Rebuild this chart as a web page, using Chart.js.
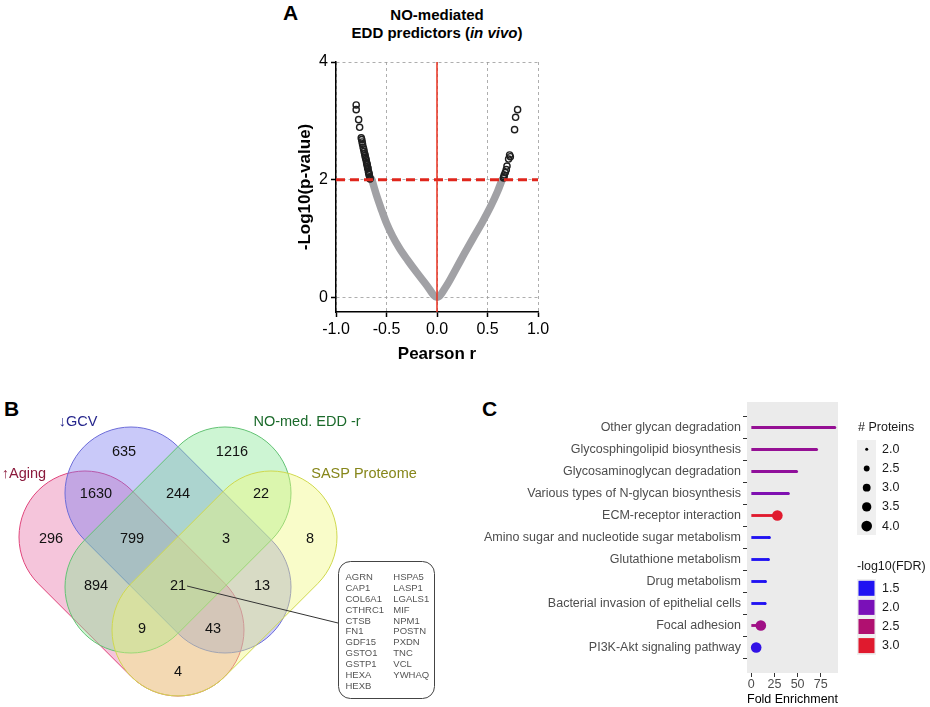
<!DOCTYPE html>
<html>
<head>
<meta charset="utf-8">
<script src="https://cdn.jsdelivr.net/npm/chart.js@4.4.1/dist/chart.umd.min.js"></script>
<style>
  html, body { margin: 0; padding: 0; background: #fff; }
  body { width: 930px; height: 707px; position: relative; overflow: hidden; font-family: "Liberation Sans", Arial, sans-serif; }
  canvas { position: absolute; }
  .panel { position: absolute; font-weight: bold; font-size: 21px; line-height: 24px; }
  #titleA { position: absolute; left: 317px; width: 240px; top: 6px; text-align: center; font-weight: bold; font-size: 15px; line-height: 18px; }
</style>
</head>
<body>
<div class="panel" style="left:283px;top:1px">A</div>
<div id="titleA">NO-mediated<br>EDD predictors (<i>in vivo</i>)</div>
<div class="panel" style="left:4px;top:397px">B</div>
<div class="panel" style="left:482px;top:397px">C</div>
<canvas id="chartA" width="265" height="330" style="left:285px;top:40px"></canvas>
<canvas id="chartB" width="470" height="327" style="left:0px;top:380px"></canvas>
<canvas id="chartC" width="460" height="327" style="left:470px;top:380px"></canvas>
<script>
// ---- panel A: volcano (Pearson r vs -log10 p) ----
const xTicksA = [-1, -0.5, 0, 0.5, 1];
const yTicksA = [0, 2, 4];
const yRangeA = [-0.25, 4];
const pCutoff = 2; // -log10(0.01)
// non-significant proteins (grey band)
const bandR    = [-0.645, -0.6, -0.55, -0.5, -0.44, -0.37, -0.29, -0.2, -0.1, 0, 0.092, 0.181, 0.27, 0.362, 0.45, 0.53, 0.6, 0.645];
const bandLogP = [2.0, 1.74, 1.49, 1.26, 1.04, 0.83, 0.63, 0.42, 0.2, 0, 0.19, 0.46, 0.74, 1.02, 1.28, 1.54, 1.8, 2.0];
// significant proteins (open circles)
const sigR    = [-0.663, -0.665, -0.667, -0.671, -0.673, -0.676, -0.679, -0.684, -0.686, -0.688, -0.691, -0.694, -0.697, -0.701, -0.705, -0.709, -0.712, -0.716, -0.722, -0.726, -0.731, -0.737, -0.741, -0.745, -0.75, -0.766, -0.776, -0.80, -0.80,
                 0.659, 0.663, 0.666, 0.676, 0.686, 0.693, 0.709, 0.719, 0.726, 0.768, 0.778, 0.798];
const sigLogP = [2.01, 2.03, 2.05, 2.08, 2.1, 2.12, 2.14, 2.19, 2.2, 2.22, 2.25, 2.27, 2.29, 2.33, 2.36, 2.38, 2.41, 2.44, 2.48, 2.52, 2.55, 2.6, 2.64, 2.68, 2.71, 2.89, 3.02, 3.19, 3.27,
                 2.03, 2.05, 2.08, 2.12, 2.17, 2.23, 2.35, 2.42, 2.39, 2.85, 3.06, 3.19];

// ---- panel B: 4-set Venn ----
const vennSets = ['\u2191Aging', '\u2193GCV', 'NO-med. EDD -r', 'SASP Proteome'];
const vennCounts = [635, 1216, 1630, 244, 22, 296, 799, 3, 8, 894, 21, 13, 9, 43, 4];
const sharedGenesA = ['AGRN', 'CAP1', 'COL6A1', 'CTHRC1', 'CTSB', 'FN1', 'GDF15', 'GSTO1', 'GSTP1', 'HEXA', 'HEXB'];
const sharedGenesB = ['HSPA5', 'LASP1', 'LGALS1', 'MIF', 'NPM1', 'POSTN', 'PXDN', 'TNC', 'VCL', 'YWHAQ'];

// ---- panel C: KEGG lollipop ----
const pathways = ['Other glycan degradation', 'Glycosphingolipid biosynthesis', 'Glycosaminoglycan degradation',
  'Various types of N-glycan biosynthesis', 'ECM-receptor interaction', 'Amino sugar and nucleotide sugar metabolism',
  'Glutathione metabolism', 'Drug metabolism', 'Bacterial invasion of epithelial cells', 'Focal adhesion', 'PI3K-Akt signaling pathway'];
const foldEnrichment = [90, 70.4, 48.9, 40, 28.2, 19.6, 18.6, 15.4, 15, 10.4, 5.4];
const proteinCount = [2, 2, 2, 2, 4, 2, 2, 2, 2, 4, 4];
const log10FDR = [2.25, 2.25, 2.2, 2.05, 3.0, 1.5, 1.5, 1.5, 1.5, 2.35, 1.6];
const foldTicks = [0, 25, 50, 75];
const sizeLegend = [2.0, 2.5, 3.0, 3.5, 4.0];
const fdrLegend = [1.5, 2.0, 2.5, 3.0];

const FONT = '"Liberation Sans", Arial, Helvetica, sans-serif';
Chart.defaults.font.family = FONT;
Chart.defaults.animation = false;

const noPad = s => { s.paddingLeft = 0; s.paddingRight = 0; s.paddingTop = 0; s.paddingBottom = 0; };

// ===== A =====
new Chart(document.getElementById('chartA'), {
  type: 'scatter',
  data: {
    datasets: [
      { type: 'line', data: [{x: 0, y: yRangeA[0]}, {x: 0, y: yRangeA[1]}], borderColor: '#e8311f', borderWidth: 1.5, pointRadius: 0, order: 0 },
      { type: 'line', data: [{x: xTicksA[0], y: pCutoff}, {x: xTicksA[4], y: pCutoff}], borderColor: '#e0261c', borderWidth: 3, borderDash: [9, 5], pointRadius: 0, order: 0 },
      { data: sigR.map((r, i) => ({x: r, y: sigLogP[i]})), pointRadius: 3.1, pointBorderWidth: 1.4, pointBorderColor: '#1e1e1e', pointBackgroundColor: 'rgba(255,255,255,0)', order: 1 },
      { type: 'line', data: bandR.map((r, i) => ({x: r, y: bandLogP[i]})), borderColor: '#a1a1a5', borderWidth: 7.5, borderCapStyle: 'round', borderJoinStyle: 'round', cubicInterpolationMode: 'monotone', pointRadius: 0, order: 2 }
    ]
  },
  options: {
    responsive: false,
    layout: { padding: { top: 22, right: 12, left: 0, bottom: 0 } },
    plugins: { legend: { display: false }, tooltip: { enabled: false } },
    scales: {
      x: {
        type: 'linear', min: -1, max: 1,
        afterBuildTicks: s => { s.ticks = xTicksA.map(v => ({value: v})); },
        afterFit: s => { s.height = 58; noPad(s); },
        ticks: { font: { size: 16 }, color: '#000', padding: 3, maxRotation: 0, autoSkip: false, callback: v => v.toFixed(1) },
        grid: { color: '#9a9a9a', lineWidth: 0.8, tickColor: '#000', tickLength: 5, tickWidth: 1.5, tickBorderDash: [] },
        border: { color: '#000', width: 1.5, dash: [3, 3] },
        title: { display: true, text: 'Pearson r', color: '#000', font: { size: 17, weight: 'bold' }, padding: { top: 0, bottom: 5 } }
      },
      y: {
        type: 'linear', min: yRangeA[0], max: yRangeA[1],
        afterBuildTicks: s => { s.ticks = yTicksA.map(v => ({value: v})); },
        afterFit: s => { s.width = 51; noPad(s); },
        ticks: { font: { size: 16 }, color: '#000', padding: 3 },
        grid: { color: '#9a9a9a', lineWidth: 0.8, tickColor: '#000', tickLength: 5, tickWidth: 1.5, tickBorderDash: [] },
        border: { color: '#000', width: 1.5, dash: [3, 3] },
        title: { display: true, text: '-Log10(p-value)', color: '#000', font: { size: 17, weight: 'bold' }, padding: { top: 10, bottom: 0 } }
      }
    }
  }
});

// ===== B =====
// stadium shapes: two cap centres + radius, in local px units
const setShapes = [
  { caps: [[85, 157], [178, 250]], fill: 'rgba(230,110,165,0.4)', stroke: '#e0457b', text: '#8b1a3c', label: [24, 94] },
  { caps: [[131, 113], [225, 207]], fill: 'rgba(120,120,240,0.4)', stroke: '#6d6dd8', text: '#26268c', label: [78, 42] },
  { caps: [[225, 113], [131, 207]], fill: 'rgba(130,230,145,0.4)', stroke: '#63c274', text: '#1b6a2b', label: [307, 42] },
  { caps: [[271, 157], [178, 250]], fill: 'rgba(240,248,120,0.4)', stroke: '#cfd84e', text: '#86861a', label: [364, 94] }
];
const capR = 66;
const countPos = [[124, 72], [232, 72], [96, 114], [178, 114], [261, 114], [51, 159], [132, 159], [226, 159], [310, 159],
  [96, 206], [178, 206], [262, 206], [142, 249], [213, 249], [178, 292]];

const vennPlugin = {
  id: 'venn',
  beforeDatasetsDraw(chart) {
    const {ctx, scales: {x, y}} = chart;
    const k = x.getPixelForValue(1) - x.getPixelForValue(0);
    ctx.save();
    setShapes.forEach((s, i) => {
      const [a, b] = s.caps;
      const ax = x.getPixelForValue(a[0]), ay = y.getPixelForValue(a[1]);
      const bx = x.getPixelForValue(b[0]), by = y.getPixelForValue(b[1]);
      const th = Math.atan2(by - ay, bx - ax);
      ctx.beginPath();
      ctx.arc(bx, by, capR * k, th - Math.PI / 2, th + Math.PI / 2);
      ctx.arc(ax, ay, capR * k, th + Math.PI / 2, th + 3 * Math.PI / 2);
      ctx.closePath();
      ctx.fillStyle = s.fill;
      ctx.fill();
      ctx.lineWidth = 1;
      ctx.strokeStyle = s.stroke;
      ctx.stroke();
      ctx.fillStyle = s.text;
      ctx.font = '14.5px ' + FONT;
      ctx.textAlign = 'center';
      ctx.textBaseline = 'middle';
      ctx.fillText(vennSets[i], x.getPixelForValue(s.label[0]), y.getPixelForValue(s.label[1]));
    });
    ctx.restore();
  },
  afterDatasetsDraw(chart) {
    const {ctx, scales: {x, y}} = chart;
    const pts = chart.getDatasetMeta(0).data;
    ctx.save();
    ctx.fillStyle = '#111';
    ctx.font = '14.5px ' + FONT;
    ctx.textAlign = 'center';
    ctx.textBaseline = 'middle';
    pts.forEach((p, i) => ctx.fillText(String(vennCounts[i]), p.x, p.y));
    // callout from the 4-way intersection to the gene box
    const c = pts[10];
    const bx0 = x.getPixelForValue(338), by0 = y.getPixelForValue(181);
    const bx1 = x.getPixelForValue(434), by1 = y.getPixelForValue(318);
    ctx.strokeStyle = '#333';
    ctx.lineWidth = 1;
    ctx.beginPath();
    ctx.moveTo(c.x + 9, c.y);
    ctx.lineTo(bx0, y.getPixelForValue(243));
    ctx.stroke();
    ctx.beginPath();
    ctx.roundRect(bx0 + 0.5, by0 + 0.5, bx1 - bx0, by1 - by0, 12);
    ctx.fillStyle = '#fff';
    ctx.fill();
    ctx.strokeStyle = '#444';
    ctx.stroke();
    ctx.fillStyle = '#555';
    ctx.font = '9.5px ' + FONT;
    ctx.textAlign = 'left';
    sharedGenesA.forEach((g, i) => ctx.fillText(g, x.getPixelForValue(345.5), y.getPixelForValue(197.7 + i * 10.83)));
    sharedGenesB.forEach((g, i) => ctx.fillText(g, x.getPixelForValue(393.3), y.getPixelForValue(197.7 + i * 10.83)));
    ctx.restore();
  }
};

new Chart(document.getElementById('chartB'), {
  type: 'scatter',
  data: { datasets: [{ data: countPos.map(([px, py]) => ({x: px, y: py})), pointRadius: 0 }] },
  options: {
    responsive: false,
    layout: { padding: 0 },
    plugins: { legend: { display: false }, tooltip: { enabled: false } },
    scales: {
      x: { type: 'linear', min: 0, max: 470, display: false },
      y: { type: 'linear', min: 0, max: 327, reverse: true, display: false }
    }
  },
  plugins: [vennPlugin]
});

// ===== C =====
const fdrStops = [[1.5, [32, 18, 242]], [2.0, [122, 16, 184]], [2.5, [176, 16, 112]], [3.0, [224, 26, 46]]];
function fdrColor(v) {
  if (v <= fdrStops[0][0]) return `rgb(${fdrStops[0][1].join(',')})`;
  for (let i = 1; i < fdrStops.length; i++) {
    if (v <= fdrStops[i][0]) {
      const [v0, c0] = fdrStops[i - 1], [v1, c1] = fdrStops[i];
      const t = (v - v0) / (v1 - v0);
      return `rgb(${c0.map((c, j) => Math.round(c + t * (c1[j] - c))).join(',')})`;
    }
  }
  return `rgb(${fdrStops[fdrStops.length - 1][1].join(',')})`;
}
const sizeRadius = n => Math.sqrt(1.5 * 1.5 + (n - 2) / 2 * (5.3 * 5.3 - 1.5 * 1.5));
const pathColors = log10FDR.map(fdrColor);

const panelBg = {
  id: 'panelBg',
  beforeDraw(chart) {
    const {ctx, chartArea: a} = chart;
    ctx.save();
    ctx.fillStyle = '#ebebeb';
    ctx.fillRect(a.left, a.top, a.right - a.left, a.bottom - a.top);
    ctx.restore();
  },
  afterDraw(chart) {
    const {ctx} = chart;
    ctx.save();
    ctx.textBaseline = 'middle';
    ctx.textAlign = 'left';
    ctx.font = '12.5px ' + FONT;
    ctx.fillStyle = '#1a1a1a';
    ctx.fillText('# Proteins', 388, 48);
    ctx.fillStyle = '#efefef';
    ctx.fillRect(387, 60, 19, 95);
    sizeLegend.forEach((n, i) => {
      const yy = 69.3 + i * 19.2;
      ctx.fillStyle = '#000';
      ctx.beginPath();
      ctx.arc(396.7, yy, sizeRadius(n), 0, Math.PI * 2);
      ctx.fill();
      ctx.fillStyle = '#1a1a1a';
      ctx.fillText(n.toFixed(1), 412, yy);
    });
    ctx.fillText('-log10(FDR)', 387, 186.7);
    ctx.fillStyle = '#efefef';
    ctx.fillRect(387, 199, 19, 76);
    fdrLegend.forEach((v, i) => {
      const yy = 208.3 + i * 19.1;
      ctx.fillStyle = fdrColor(v);
      ctx.fillRect(388.5, yy - 7.5, 16, 15);
      ctx.fillStyle = '#1a1a1a';
      ctx.fillText(v.toFixed(1), 412, yy);
    });
    ctx.restore();
  }
};

new Chart(document.getElementById('chartC'), {
  type: 'bar',
  data: {
    datasets: [
      { type: 'scatter', data: foldEnrichment.map((v, i) => ({x: v, y: i})), pointRadius: proteinCount.map(sizeRadius),
        pointBackgroundColor: pathColors, pointBorderWidth: 0, order: 0 },
      { type: 'bar', indexAxis: 'y', data: foldEnrichment.map((v, i) => ({x: v, y: i})), backgroundColor: pathColors,
        barThickness: 2.2, order: 1 }
    ]
  },
  options: {
    responsive: false,
    indexAxis: 'y',
    layout: { padding: { top: 22, right: 92, left: 0, bottom: 0 } },
    plugins: { legend: { display: false }, tooltip: { enabled: false } },
    scales: {
      x: {
        type: 'linear', min: -4.5, max: 93.5,
        afterBuildTicks: s => { s.ticks = foldTicks.map(v => ({value: v})); },
        afterFit: s => { s.height = 34; noPad(s); },
        ticks: { font: { size: 12.5 }, color: '#4d4d4d', padding: 0, maxRotation: 0 },
        grid: { drawOnChartArea: false, tickLength: 4, tickColor: '#333', tickWidth: 1 },
        border: { display: false },
        title: { display: true, text: 'Fold Enrichment', color: '#000', font: { size: 12.5 }, padding: { top: 0, bottom: 0 } }
      },
      y: {
        type: 'linear', min: -0.6, max: pathways.length - 0.4, reverse: true,
        afterBuildTicks: s => { s.ticks = pathways.map((p, i) => ({value: i})); },
        afterFit: s => { s.width = 277; noPad(s); },
        ticks: { font: { size: 12.5 }, color: '#4d4d4d', padding: 2, autoSkip: false, callback: v => pathways[v] },
        grid: { drawOnChartArea: false, tickLength: 4, tickColor: '#333', tickWidth: 1 },
        border: { display: false }
      }
    }
  },
  plugins: [panelBg]
});
</script>
</body>
</html>
